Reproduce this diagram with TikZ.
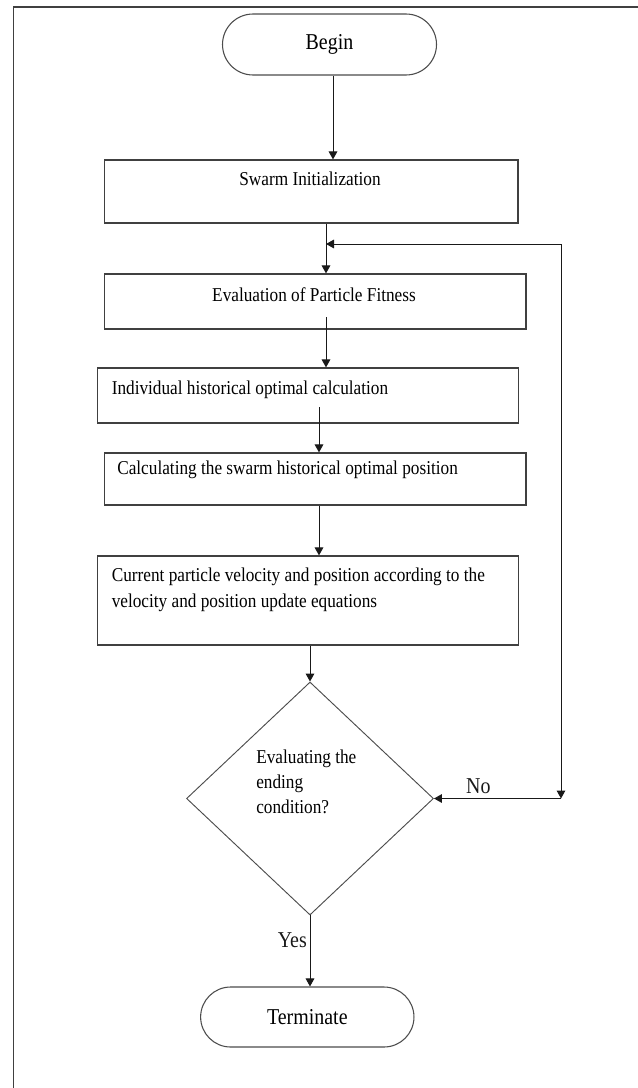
\documentclass[tikz,border=0pt]{standalone}
\usepackage{fontspec}
\setmainfont{Liberation Serif}[FakeStretch=0.88]
\usepackage{tikz}
\usetikzlibrary{positioning, shapes.geometric, shapes.misc, arrows.meta}

\begin{document}
\begin{tikzpicture}[x=0.75pt, y=-0.75pt, >={Triangle[length=6pt, width=6.5pt]},
    box/.style={draw=black!75, line width=0.9pt, rectangle, inner sep=0pt},
    terminal/.style={draw=black!70, line width=0.8pt, rounded rectangle, inner sep=0pt, font=\fontsize{17}{20}\selectfont},
    decision/.style={draw=black!70, line width=0.7pt, diamond, inner sep=0pt},
    txt/.style={inner sep=0pt, font=\fontsize{14.7}{19.5}\selectfont},
    flow/.style={->, line width=0.75pt, black!90}]
    \useasboundingbox (0,0) rectangle (638,1088);
    % Frame
    \draw[black!75, line width=1pt] (13.4,7) rectangle (700,1150);

    % Steps
    \node[terminal, minimum width=160.5pt, minimum height=45.75pt] (begin) at (329.5,44.5) {Begin};
    \node[box, minimum width=310pt, minimum height=47.25pt] (swarm) at (311.3,191.5) {};
    \node[box, minimum width=316pt, minimum height=41.25pt] (eval) at (315.3,301.5) {};
    \node[box, minimum width=315.6pt, minimum height=41.25pt] (indiv) at (308.1,395.5) {};
    \node[box, minimum width=316pt, minimum height=39pt] (calc) at (315.3,479) {};
    \node[box, minimum width=315.6pt, minimum height=66.75pt] (current) at (308.1,600.5) {};
    \node[decision, minimum width=185.25pt, minimum height=174.75pt] (dec) at (310,798.5) {};
    \node[terminal, minimum width=160pt, minimum height=45pt] (term) at (307.3,1017) {Terminate};

    % Texts
    \node[txt] (swarmtxt) at (310,179) {Swarm Initialization};
    \node[txt] (evaltxt) at (314,295) {Evaluation of Particle Fitness};
    \node[txt, anchor=west] (indivtxt) at (111.5,390) {Individual historical optimal calculation};
    \node[txt, anchor=west] (calctxt) at (117,470) {Calculating the swarm historical optimal position};
    \node[txt, anchor=west, align=left] (currtxt) at (111.5,590) {Current particle velocity and position according to the\\velocity and position update equations};
    \node[txt, anchor=west, align=left, font=\fontsize{14.7}{18.75}\selectfont] (dectxt) at (256,782) {Evaluating the\\ending\\condition?};

    % Guides
    \coordinate (xa) at (333,0);
    \coordinate (xb) at (326,0);
    \coordinate (xc) at (319,0);
    \coordinate (evalout) at (326,317);
    \coordinate (indivout) at (319,407);
    \coordinate (looptop) at (561,244);
    \coordinate (loopbot) at (561,798.5);

    % Arrows
    \draw[flow] (begin.south -| xa) -- (swarm.north -| xa);
    \draw[flow] (swarm.south -| xb) -- (eval.north -| xb);
    \draw[flow] (evalout) -- (indiv.north -| evalout);
    \draw[flow] (indivout) -- (calc.north -| indivout);
    \draw[flow] (calc.south -| xc) -- (current.north -| xc);
    \draw[flow] (current.south -| dec.north) -- (dec.north);
    \draw[flow] (dec.south) -- node[left, pos=0.35, inner sep=2pt, font=\fontsize{17}{20}\selectfont] {Yes} (term.north -| dec.south);
    \draw[flow] (loopbot) -- node[above, pos=0.65, inner sep=3pt, font=\fontsize{17}{20}\selectfont] {No} (dec.east);
    \draw[flow] (looptop) -- (loopbot);
    \draw[flow] (looptop) -- (looptop -| xb);
\end{tikzpicture}
\end{document}
